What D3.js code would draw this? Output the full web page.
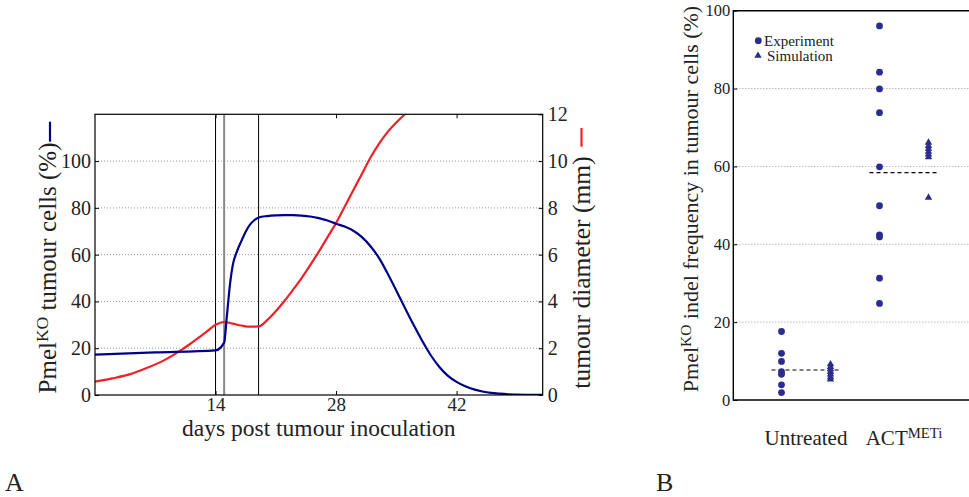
<!DOCTYPE html>
<html>
<head>
<meta charset="utf-8">
<script src="https://cdn.jsdelivr.net/npm/d3@7"></script>
<style>
  body { margin: 0; background: #fff; }
  svg text { font-family: "Liberation Serif", "Times New Roman", serif; fill: #222; }
</style>
</head>
<body>
<svg id="fig" width="969" height="497" font-family="Liberation Serif, serif"></svg>
<script>
// ---- panel A data ----
var pmelDays = [0, 7, 14, 15, 15.3, 15.7, 16, 16.5, 17, 17.5, 18, 18.5, 19,
  20, 21, 22, 23, 24, 25, 26, 27, 28, 29, 30, 31, 32, 33, 34, 35, 36, 37, 38, 39,
  40, 41, 42, 43, 44, 45, 46, 47, 48, 49, 50, 52];
var pmelPct = [17.3, 18.2, 19.1, 22.4, 33, 48, 55.5, 61.5, 65.8, 69.8, 72.8, 74.7, 75.9,
  76.5, 76.8, 76.9, 76.9, 76.7, 76.3, 75.6, 74.6, 73.2, 72.0, 70.2, 67.5, 63.6, 58.5, 51.8, 44.6, 37.2, 30, 23.2, 17,
  12, 8.2, 5.6, 3.7, 2.4, 1.5, 0.9, 0.55, 0.3, 0.18, 0.1, 0.03];
var diamDays = [0, 2, 4, 6, 8, 10, 11, 12, 13, 14, 15, 16, 17, 18, 19, 20, 21, 22, 23, 24,
  25, 26, 27, 28, 29, 30, 31, 32, 33, 34, 35, 36, 37, 38];
var diamMm = [0.57, 0.71, 0.88, 1.15, 1.48, 1.92, 2.17, 2.44, 2.72, 3.0, 3.12, 3.05, 2.97, 2.92, 2.93, 3.2, 3.58, 4.02, 4.5, 5.0,
  5.55, 6.13, 6.74, 7.35, 8.05, 8.75, 9.45, 10.15, 10.75, 11.25, 11.65, 12.0, 12.3, 12.55];
var treatDays = [14, 15, 19];
var dayTicks = [14, 28, 42];
var pctTicks = [0, 20, 40, 60, 80, 100];
var mmTicks = [0, 2, 4, 6, 8, 10, 12];

// ---- panel B data ----
var groups = ["Untreated", "ACT"];
var kinds = ["Experiment", "Simulation"];
var expUntreated = [17.6, 12.0, 9.9, 7.3, 6.6, 3.9, 1.9];
var simUntreated = [9.2, 8.5, 7.9, 7.2, 6.6, 5.9, 5.3];
var expAct = [96.1, 84.2, 79.9, 73.8, 59.9, 49.9, 42.4, 41.9, 31.3, 24.8];
var simAct = [66.1, 65.3, 64.6, 63.8, 63.1, 62.4, 52.0];
var groupMeans = [7.7, 58.4];
var freqTicks = [0, 20, 40, 60, 80, 100];

var svg = d3.select("#fig");
var blue = "#00008b", red = "#ee2028", dots = "#2b2d8e";

function styleAxis(g, size) {
  g.attr("font-family", null).attr("font-size", size);
  g.select(".domain").remove();
  g.selectAll(".tick line").attr("stroke", "#000");
}

// ================= panel A =================
var A = {left: 95, right: 542.7, top: 114.3, bottom: 395};
var x = d3.scaleLinear().domain([0, 52]).range([A.left, A.right]);
var yPct = d3.scaleLinear().domain([0, 120]).range([A.bottom, A.top]);
var yMm = d3.scaleLinear().domain([0, 12]).range([A.bottom, A.top]);

svg.append("clipPath").attr("id", "clipA")
  .append("rect").attr("x", A.left).attr("y", A.top)
  .attr("width", A.right - A.left).attr("height", A.bottom - A.top);

svg.append("g").selectAll("line").data(pctTicks.slice(1))
  .join("line")
  .attr("x1", A.left).attr("x2", A.right)
  .attr("y1", d => yPct(d)).attr("y2", d => yPct(d))
  .attr("stroke", "#999").attr("stroke-dasharray", "1,2");

svg.append("g").selectAll("line").data(treatDays)
  .join("line")
  .attr("x1", d => x(d)).attr("x2", d => x(d))
  .attr("y1", A.top).attr("y2", A.bottom)
  .attr("stroke", d => d === 15 ? "#888" : "#000")
  .attr("stroke-width", d => d === 15 ? 2 : 1);

var pmelLine = d3.line().curve(d3.curveMonotoneX).x(d => x(d[0])).y(d => yPct(d[1]));
var diamLine = d3.line().curve(d3.curveMonotoneX).x(d => x(d[0])).y(d => yMm(d[1]));

svg.append("path")
  .datum(diamDays.map((d, i) => [d, diamMm[i]]))
  .attr("clip-path", "url(#clipA)")
  .attr("d", diamLine)
  .attr("fill", "none").attr("stroke", red).attr("stroke-width", 2.2);

svg.append("path")
  .datum(pmelDays.map((d, i) => [d, pmelPct[i]]))
  .attr("clip-path", "url(#clipA)")
  .attr("d", pmelLine)
  .attr("fill", "none").attr("stroke", blue).attr("stroke-width", 2.2);

svg.append("rect")
  .attr("x", A.left).attr("y", A.top)
  .attr("width", A.right - A.left).attr("height", A.bottom - A.top)
  .attr("fill", "none").attr("stroke", "#000").attr("stroke-width", 1.2);

svg.append("g").attr("transform", `translate(${A.left},0)`)
  .call(d3.axisLeft(yPct).tickValues(pctTicks).tickSizeInner(-4).tickSizeOuter(0).tickPadding(4))
  .call(g => styleAxis(g, 20));

svg.append("g").attr("transform", `translate(${A.right},0)`)
  .call(d3.axisRight(yMm).tickValues(mmTicks).tickSizeInner(-4).tickSizeOuter(0).tickPadding(5))
  .call(g => styleAxis(g, 20));

svg.append("g").attr("transform", `translate(0,${A.bottom})`)
  .call(d3.axisBottom(x).tickValues(dayTicks).tickSizeInner(-4).tickSizeOuter(0).tickPadding(2))
  .call(g => styleAxis(g, 19));

svg.append("g").attr("transform", `translate(0,${A.top})`)
  .call(d3.axisTop(x).tickValues(dayTicks).tickFormat("").tickSizeInner(-4).tickSizeOuter(0))
  .call(g => styleAxis(g, 20));

svg.append("text")
  .attr("x", (A.left + A.right) / 2).attr("y", 436)
  .attr("text-anchor", "middle").attr("font-size", 23.5)
  .text("days post tumour inoculation");

var yLabA = svg.append("text")
  .attr("transform", "translate(47,268) rotate(-90)")
  .attr("dy", "0.35em").attr("text-anchor", "middle").attr("font-size", 25);
yLabA.append("tspan").text("Pmel");
yLabA.append("tspan").attr("font-size", "0.7em").attr("dy", -8).text("KO");
yLabA.append("tspan").attr("dy", 8).text(" tumour cells (%)");
svg.append("line").attr("x1", 50).attr("x2", 50).attr("y1", 121.7).attr("y2", 141.7)
  .attr("stroke", blue).attr("stroke-width", 2.2);

svg.append("text")
  .attr("transform", "translate(581.5,272.5) rotate(-90)")
  .attr("dy", "0.35em").attr("text-anchor", "middle").attr("font-size", 25.5)
  .text("tumour diameter (mm)");
svg.append("line").attr("x1", 581.5).attr("x2", 581.5).attr("y1", 128).attr("y2", 146.7)
  .attr("stroke", red).attr("stroke-width", 2.2);

// ================= panel B =================
var B = {left: 733.3, right: 969.5, top: 10.7, bottom: 400};
var yB = d3.scaleLinear().domain([0, 100]).range([B.bottom, B.top]);
var xG = d3.scaleBand().domain(groups).range([757, 953]);
var xK = d3.scalePoint().domain(kinds).range([0, xG.bandwidth()]).padding(0.5);

svg.append("g").selectAll("line").data(freqTicks.slice(1, -1))
  .join("line")
  .attr("x1", B.left).attr("x2", B.right)
  .attr("y1", d => yB(d)).attr("y2", d => yB(d))
  .attr("stroke", "#999").attr("stroke-dasharray", "1,2");

svg.append("path")
  .attr("d", `M${B.right},${B.top}H${B.left}V${B.bottom}H${B.right}`)
  .attr("fill", "none").attr("stroke", "#000").attr("stroke-width", 1.4);

svg.append("g").attr("transform", `translate(${B.left},0)`)
  .call(d3.axisLeft(yB).tickValues(freqTicks).tickSizeInner(-4).tickSizeOuter(0).tickPadding(3))
  .call(g => styleAxis(g, 16.5));

svg.append("g").selectAll("line").data(groups)
  .join("line")
  .attr("x1", g => xG(g) + xK("Experiment") - 10)
  .attr("x2", g => xG(g) + xK("Simulation") + 11)
  .attr("y1", (g, i) => yB(groupMeans[i])).attr("y2", (g, i) => yB(groupMeans[i]))
  .attr("stroke", "#000").attr("stroke-width", 1.2).attr("stroke-dasharray", "4,3");

var expPts = expUntreated.map(v => ["Untreated", v]).concat(expAct.map(v => ["ACT", v]));
var simPts = simUntreated.map(v => ["Untreated", v]).concat(simAct.map(v => ["ACT", v]));

svg.append("g").selectAll("circle").data(expPts)
  .join("circle")
  .attr("cx", d => xG(d[0]) + xK("Experiment"))
  .attr("cy", d => yB(d[1]))
  .attr("r", 3.4).attr("fill", dots);

var tri = d3.symbol(d3.symbolTriangle).size(24);
svg.append("g").selectAll("path").data(simPts)
  .join("path")
  .attr("transform", d => `translate(${xG(d[0]) + xK("Simulation")},${yB(d[1])})`)
  .attr("d", tri).attr("fill", dots);

// category labels
svg.append("text")
  .attr("x", xG("Untreated") + xG.bandwidth() / 2).attr("y", 445)
  .attr("text-anchor", "middle").attr("font-size", 21).text("Untreated");
var actLab = svg.append("text")
  .attr("x", xG("ACT") + xG.bandwidth() / 2).attr("y", 445)
  .attr("text-anchor", "middle").attr("font-size", 21);
actLab.append("tspan").text("ACT");
actLab.append("tspan").attr("font-size", "0.7em").attr("dy", -7).text("METi");

var yLabB = svg.append("text")
  .attr("transform", "translate(690,199) rotate(-90)")
  .attr("dy", "0.35em").attr("text-anchor", "middle").attr("font-size", 22);
yLabB.append("tspan").text("Pmel");
yLabB.append("tspan").attr("font-size", "0.7em").attr("dy", -7).text("KO");
yLabB.append("tspan").attr("dy", 7).text(" indel frequency in tumour cells (%)");

// legend
svg.append("circle").attr("cx", 758.3).attr("cy", 40.7).attr("r", 3.4).attr("fill", dots);
svg.append("text").attr("x", 764).attr("y", 45.5).attr("font-size", 15).text("Experiment");
svg.append("path").attr("transform", "translate(758,55.7)").attr("d", tri).attr("fill", dots);
svg.append("text").attr("x", 767).attr("y", 60.5).attr("font-size", 15).text("Simulation");

// panel letters
svg.append("text").attr("x", 5).attr("y", 491).attr("font-size", 26).text("A");
svg.append("text").attr("x", 656).attr("y", 491).attr("font-size", 26).text("B");
</script>
</body>
</html>
